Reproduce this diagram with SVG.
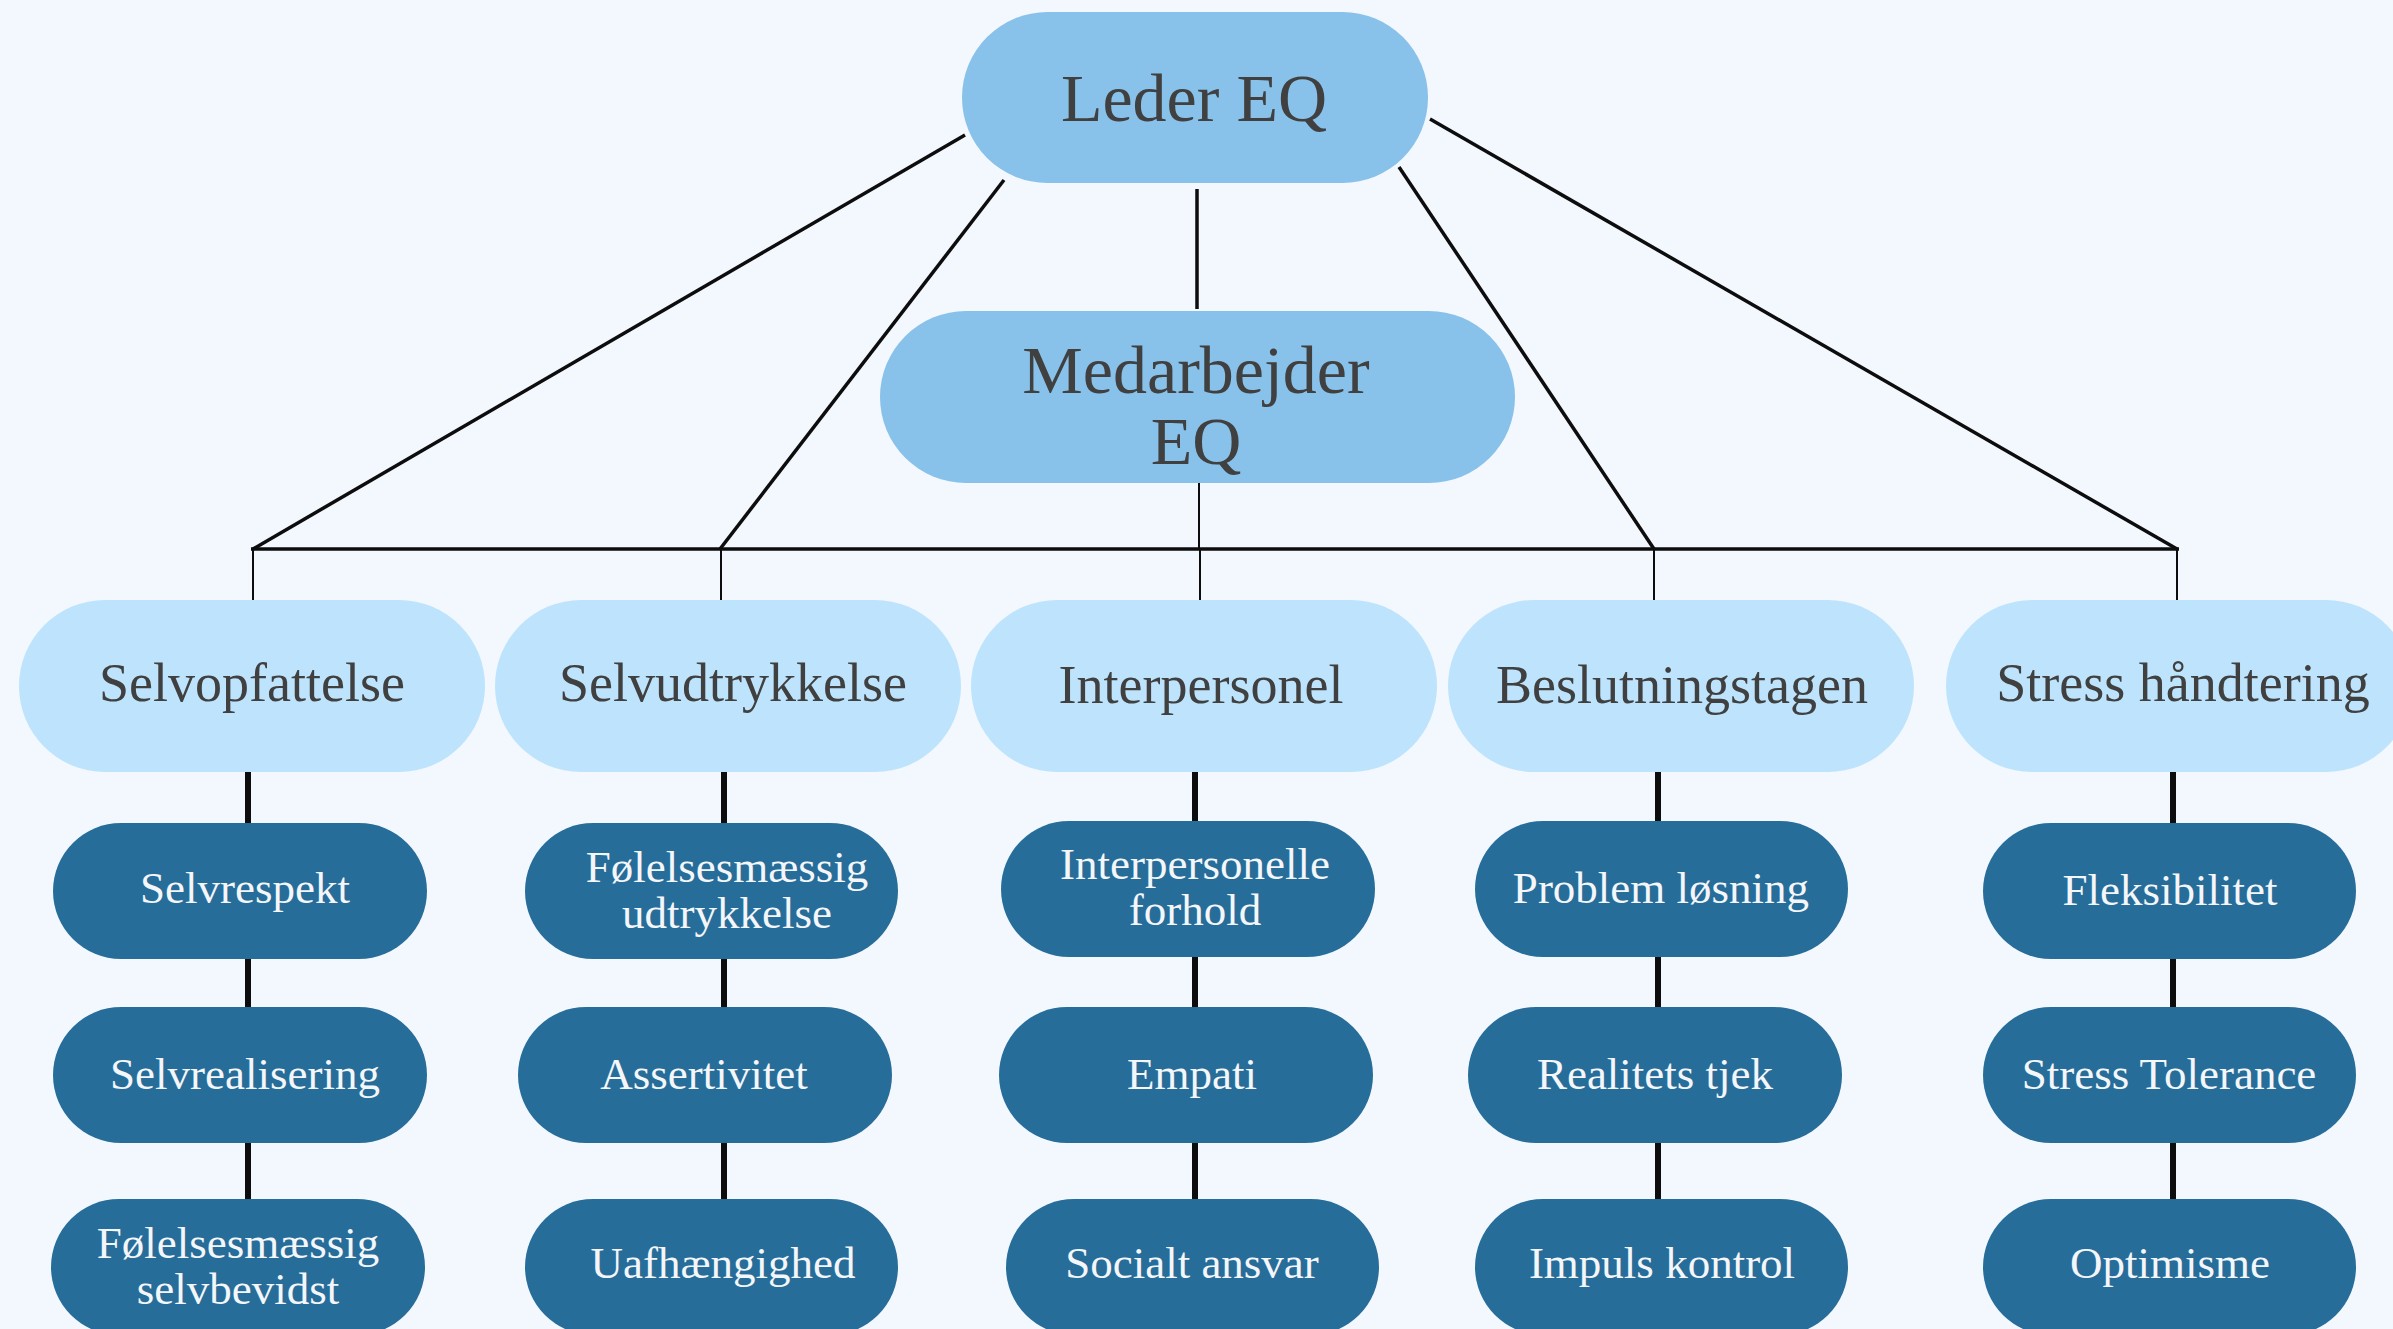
<svg xmlns="http://www.w3.org/2000/svg" width="2393" height="1329" viewBox="0 0 2393 1329">
<style>
.bg{fill:#f3f7fe}
.l1{fill:#88c1e9}
.l2{fill:#bde4fc}
.l3{fill:#276d99}
.t1{font-family:"Liberation Serif",serif;font-size:68px;fill:#404040;text-anchor:middle}
.t2{font-family:"Liberation Serif",serif;font-size:54px;fill:#404040;text-anchor:middle}
.t3{font-family:"Liberation Serif",serif;font-size:45px;fill:#f4f6fa;text-anchor:middle}
.c{stroke:#0d0d0d;fill:none;stroke-linecap:butt}
.thin{stroke-width:2}
.mid{stroke-width:3.5}
.thick{stroke-width:6}
</style>
<rect class="bg" x="0" y="0" width="2393" height="1329"/>
<g id="connectors">
  <line class="c mid" x1="965" y1="135" x2="253" y2="549"/>
  <line class="c mid" x1="1004" y1="180" x2="720" y2="549"/>
  <line class="c mid" x1="1197" y1="189" x2="1197" y2="309"/>
  <line class="c mid" x1="1399" y1="167" x2="1654" y2="549"/>
  <line class="c mid" x1="1430" y1="119" x2="2177" y2="549"/>
  <line class="c mid" x1="251" y1="549" x2="2179" y2="549"/>
  <line class="c thin" x1="1199" y1="483" x2="1199" y2="549"/>
  <line class="c thin" x1="253" y1="549" x2="253" y2="600"/>
  <line class="c thin" x1="721" y1="549" x2="721" y2="600"/>
  <line class="c thin" x1="1200" y1="549" x2="1200" y2="600"/>
  <line class="c thin" x1="1654" y1="549" x2="1654" y2="600"/>
  <line class="c thin" x1="2177" y1="549" x2="2177" y2="600"/>
  <line class="c thick" x1="248" y1="771" x2="248" y2="824"/>
  <line class="c thick" x1="248" y1="958" x2="248" y2="1008"/>
  <line class="c thick" x1="248" y1="1142" x2="248" y2="1200"/>
  <line class="c thick" x1="724" y1="771" x2="724" y2="824"/>
  <line class="c thick" x1="724" y1="958" x2="724" y2="1008"/>
  <line class="c thick" x1="724" y1="1142" x2="724" y2="1200"/>
  <line class="c thick" x1="1195" y1="771" x2="1195" y2="822"/>
  <line class="c thick" x1="1195" y1="956" x2="1195" y2="1008"/>
  <line class="c thick" x1="1195" y1="1142" x2="1195" y2="1200"/>
  <line class="c thick" x1="1658" y1="771" x2="1658" y2="822"/>
  <line class="c thick" x1="1658" y1="956" x2="1658" y2="1008"/>
  <line class="c thick" x1="1658" y1="1142" x2="1658" y2="1200"/>
  <line class="c thick" x1="2173" y1="771" x2="2173" y2="824"/>
  <line class="c thick" x1="2173" y1="958" x2="2173" y2="1008"/>
  <line class="c thick" x1="2173" y1="1142" x2="2173" y2="1200"/>
</g>
<g id="leder-eq"><rect class="l1" x="962" y="12" width="466" height="171" rx="85.5"/><text class="t1" x="1194" y="121">Leder EQ</text></g>
<g id="medarbejder-eq"><rect class="l1" x="880" y="311" width="635" height="172" rx="86"/><text class="t1" x="1196" y="393">Medarbejder</text><text class="t1" x="1196" y="464">EQ</text></g>

<g id="selvopfattelse"><rect class="l2" x="19" y="600" width="466" height="172" rx="86"/><text class="t2" x="252" y="701">Selvopfattelse</text></g>
<g id="selvudtrykkelse"><rect class="l2" x="495" y="600" width="466" height="172" rx="86"/><text class="t2" x="733" y="701">Selvudtrykkelse</text></g>
<g id="interpersonel"><rect class="l2" x="971" y="600" width="466" height="172" rx="86"/><text class="t2" x="1201" y="703">Interpersonel</text></g>
<g id="beslutningstagen"><rect class="l2" x="1448" y="600" width="466" height="172" rx="86"/><text class="t2" x="1682" y="703">Beslutningstagen</text></g>
<g id="stress-handtering"><rect class="l2" x="1946" y="600" width="466" height="172" rx="86"/><text class="t2" x="2183" y="701">Stress håndtering</text></g>

<g id="selvrespekt"><rect class="l3" x="53" y="823" width="374" height="136" rx="68"/><text class="t3" x="245" y="903">Selvrespekt</text></g>
<g id="selvrealisering"><rect class="l3" x="53" y="1007" width="374" height="136" rx="68"/><text class="t3" x="245" y="1089">Selvrealisering</text></g>
<g id="folelsesmaessig-selvbevidst"><rect class="l3" x="51" y="1199" width="374" height="136" rx="68"/><text class="t3" x="238" y="1258">Følelsesmæssig</text><text class="t3" x="238" y="1304">selvbevidst</text></g>

<g id="folelsesmaessig-udtrykkelse"><rect class="l3" x="525" y="823" width="373" height="136" rx="68"/><text class="t3" x="727" y="882">Følelsesmæssig</text><text class="t3" x="727" y="928">udtrykkelse</text></g>
<g id="assertivitet"><rect class="l3" x="518" y="1007" width="374" height="136" rx="68"/><text class="t3" x="704" y="1089">Assertivitet</text></g>
<g id="uafhaengighed"><rect class="l3" x="525" y="1199" width="373" height="136" rx="68"/><text class="t3" x="723" y="1278">Uafhængighed</text></g>

<g id="interpersonelle-forhold"><rect class="l3" x="1001" y="821" width="374" height="136" rx="68"/><text class="t3" x="1195" y="879">Interpersonelle</text><text class="t3" x="1195" y="925">forhold</text></g>
<g id="empati"><rect class="l3" x="999" y="1007" width="374" height="136" rx="68"/><text class="t3" x="1192" y="1089">Empati</text></g>
<g id="socialt-ansvar"><rect class="l3" x="1006" y="1199" width="373" height="136" rx="68"/><text class="t3" x="1192" y="1278">Socialt ansvar</text></g>

<g id="problem-losning"><rect class="l3" x="1475" y="821" width="373" height="136" rx="68"/><text class="t3" x="1661" y="903">Problem løsning</text></g>
<g id="realitets-tjek"><rect class="l3" x="1468" y="1007" width="374" height="136" rx="68"/><text class="t3" x="1655" y="1089">Realitets tjek</text></g>
<g id="impuls-kontrol"><rect class="l3" x="1475" y="1199" width="373" height="136" rx="68"/><text class="t3" x="1662" y="1278">Impuls kontrol</text></g>

<g id="fleksibilitet"><rect class="l3" x="1983" y="823" width="373" height="136" rx="68"/><text class="t3" x="2170" y="905">Fleksibilitet</text></g>
<g id="stress-tolerance"><rect class="l3" x="1983" y="1007" width="373" height="136" rx="68"/><text class="t3" x="2169" y="1089">Stress Tolerance</text></g>
<g id="optimisme"><rect class="l3" x="1983" y="1199" width="373" height="136" rx="68"/><text class="t3" x="2170" y="1278">Optimisme</text></g>
</svg>
